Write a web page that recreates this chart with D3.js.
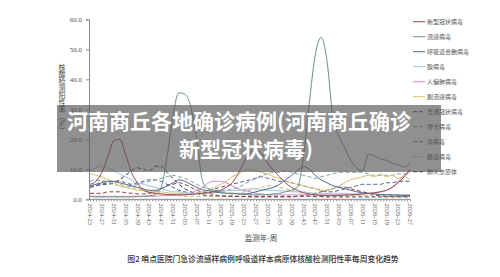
<!DOCTYPE html>
<html>
<head>
<meta charset="utf-8">
<script src="https://cdn.jsdelivr.net/npm/d3@7"></script>
<style>
  html, body { margin: 0; padding: 0; background: #fff; }
  svg { display: block; }
  .axis path, .axis line { stroke: #8a8a8a; }
  .axis text { font-family: "Liberation Serif", serif; fill: #555; }
</style>
</head>
<body>
<svg width="500" height="277"></svg>
<script>
// week labels 2024-23 ... 2026-27
const pad = n => (n < 10 ? "0" : "") + n;
const weeks = [];
for (let w = 23; w <= 52; w++) weeks.push("2024-" + pad(w));
for (let w = 1; w <= 52; w++) weeks.push("2025-" + pad(w));
for (let w = 1; w <= 27; w++) weeks.push("2026-" + pad(w));
// values are read every second week
const sampleWeeks = weeks.filter((d, i) => i % 2 === 0);

const yTicks = [0, 10, 20, 30, 40, 50, 60];

const seriesNames = ["新型冠状病毒", "流感病毒", "呼吸道合胞病毒", "腺病毒", "人偏肺病毒", "副流感病毒",
  "普通冠状病毒", "博卡病毒", "鼻病毒", "肠道病毒", "肺炎支原体"];
const seriesColors = ["#9b4a48", "#6b8f86", "#4c6a94", "#9fc3de", "#d48cc4", "#d6c272",
  "#8b3b3b", "#7aa398", "#5b5a96", "#cbb676", "#2e3550"];
const seriesDashed = [false, false, false, false, false, false, true, true, true, true, true];

const covid = [5, 6, 9, 14, 19.5, 20, 15, 9, 5.5, 3,
  2.3, 2, 1.8, 1.6, 1.5, 1.5, 1.5, 1.6, 1.8, 2,
  2.2, 2.5, 3, 4, 5.5, 8.5, 12.5, 15.5, 16.5, 15,
  12, 9.5, 7.5, 5.5, 4, 3, 2.2, 1.8, 1.5, 1.3,
  1.2, 1.2, 1.3, 1.4, 1.5, 1.6, 1.8, 2, 2.2, 2.5,
  3, 4, 5.5, 7.5, 10];
const flu = [1, 0.8, 0.8, 0.8, 0.8, 0.8, 0.8, 0.8, 0.9, 1,
  1.2, 1.5, 4, 14, 28, 35.5, 35, 31, 20, 6,
  3.5, 3, 2.5, 2, 2, 1.8, 1.6, 1.5, 1.5, 1.5,
  1.6, 1.8, 2, 2.5, 3, 4, 14, 32, 48, 54,
  46, 27, 21, 17, 13, 10.5, 9.5, 15, 14.5, 13.5,
  13, 12, 11.5, 10.8, 12];
const rsv = [4.5, 5, 5.5, 6, 6, 5.5, 5, 4.5, 4, 3.5,
  3, 3, 3.5, 4.5, 5.5, 6.5, 6, 5, 4, 3.2,
  2.8, 2.5, 2.2, 2, 2, 1.8, 1.8, 2, 2.5, 3,
  3.5, 4, 5, 6.5, 8, 9.5, 11, 10, 8, 6.5,
  5.5, 4.5, 4, 3.5, 3, 2.5, 2.2, 2, 1.8, 1.6,
  1.5, 1.5, 1.4, 1.3, 1.3];
const adeno = [9.5, 10.5, 11, 10.5, 9.5, 8.5, 7.5, 6.5, 5.5, 5,
  4.5, 4, 3.5, 3, 2.5, 2.5, 2.2, 2, 2, 2,
  2, 2.2, 2.5, 2.8, 3, 3, 3.2, 3.5, 3.5, 3.2,
  3, 3, 2.8, 2.8, 2.5, 2.5, 2.5, 2.2, 2, 2,
  2, 2, 2, 2, 1.8, 1.8, 1.8, 1.8, 1.8, 1.5,
  1.5, 1.5, 1.5, 1.5, 1.5];
const hmpv = [1, 1, 1, 1, 1, 1, 1, 1, 1, 1,
  1, 1, 1.2, 1.2, 1.3, 1.4, 1.5, 2, 3, 4,
  5.5, 6, 6, 5.5, 4.5, 3.5, 3, 2.5, 2, 1.8,
  1.5, 1.5, 1.5, 1.5, 1.5, 1.5, 1.5, 1.5, 1.5, 1.5,
  1.5, 1.5, 1.5, 1.5, 1.5, 1.6, 1.8, 2, 2, 2.5,
  3, 4, 6, 8, 9];
const piv = [8.5, 8, 7.5, 6.5, 5.5, 4.5, 4, 3.5, 3, 3,
  2.8, 2.5, 2.5, 2.2, 2, 2, 1.8, 1.8, 2, 2.5,
  3, 4, 5, 6, 7.5, 8.5, 9.5, 10, 9.5, 9,
  8.5, 7.5, 7, 6, 5.5, 5, 4.5, 4, 3.5, 3,
  3, 3.5, 4.5, 5.5, 6.5, 7, 7.5, 8, 7.5, 8.5,
  7.5, 8, 7, 7.5, 6.5];
const hcov = [2, 2, 2, 2.5, 2.5, 2.5, 2.2, 2, 1.8, 1.8,
  2, 2.5, 3.5, 4.5, 5, 5.5, 5, 4, 3, 2.5,
  2, 1.5, 1.2, 1, 1, 0.9, 0.9, 0.8, 0.8, 0.8,
  0.8, 0.8, 0.8, 0.8, 0.8, 1, 1.2, 1.5, 2, 2.5,
  3, 3.5, 4, 4, 3.5, 3, 2.5, 2, 1.5, 1.2,
  1, 1, 1, 1, 1];
const boca = [6, 6.5, 6, 5.5, 5, 4.5, 4, 4.5, 5, 5.5,
  6, 6.5, 7, 7.5, 8, 7.5, 7, 6, 5, 4,
  3.5, 3, 3, 3, 3.5, 4, 5, 6, 7, 8,
  8.5, 9, 9, 9.5, 9, 8.5, 8, 7.5, 7, 7.5,
  8, 8.5, 9, 9, 9, 9, 9, 8.5, 8, 8,
  8, 8, 8.5, 8.5, 8];
const rhino = [4, 4.5, 5, 5.5, 6, 6, 5.5, 5, 5.5, 6,
  6.5, 6.5, 6, 5, 4, 3, 2.5, 2, 2, 2.5,
  3, 3.5, 4, 4.5, 5, 5.5, 6, 6.5, 7, 7.5,
  7, 6.5, 6, 6, 5.5, 5, 4.5, 4, 3.5, 3,
  2.5, 2.5, 3, 3.5, 4, 4.5, 5, 5, 5, 5,
  5.5, 5.5, 6, 6, 6];
const entero = [4, 5, 6, 6.5, 6, 5, 4.5, 4, 3.5, 3,
  2.5, 2, 1.8, 1.5, 1.5, 1.2, 1, 1, 1, 1,
  1, 1, 1, 1.2, 1.5, 2, 2.5, 3, 3.5, 4,
  4.5, 4.5, 4, 3.5, 3, 2.5, 2, 1.5, 1.3, 1.2,
  1.2, 1.2, 1.2, 1.2, 1.2, 1.2, 1.2, 1.2, 1.2, 1.2,
  1.2, 1.2, 1.2, 1.2, 1.2];
const myco = [4, 4.5, 5, 5, 5.5, 6.5, 8, 9.5, 10.5, 10,
  9.5, 11, 11, 9, 7, 5, 3.5, 2.5, 2, 1.5,
  1.2, 1, 1, 1, 1, 1, 1, 1, 1, 1,
  1, 1, 1, 1, 1, 1, 1, 1, 0.9, 0.9,
  0.8, 0.8, 0.8, 0.8, 0.8, 0.8, 0.8, 0.8, 0.8, 0.8,
  0.8, 0.8, 0.8, 0.8, 0.8];

const seriesValues = [covid, flu, rsv, adeno, hmpv, piv, hcov, boca, rhino, entero, myco];

const titleLines = ["河南商丘各地确诊病例(河南商丘确诊", "新型冠状病毒)"];
const yTitle = "核酸检测阳性率（%）";
const xTitle = "监测年-周";
const caption = "图2  哨点医院门急诊流感样病例呼吸道样本病原体核酸检测阳性率每周变化趋势";

const svg = d3.select("svg");
const cjk = '"Noto Sans CJK SC", "Noto Sans", sans-serif';

const xScale = d3.scalePoint().domain(weeks).range([90, 410]);
const yScale = d3.scaleLinear().domain([0, 60]).range([199.3, 19.3]);

// y axis
const gY = svg.append("g").attr("class", "axis")
  .attr("transform", "translate(89,0)")
  .call(d3.axisLeft(yScale).tickValues(yTicks).tickSize(3).tickPadding(4).tickFormat(d3.format(".1f")));
gY.selectAll("text").style("font-size", "7px");

// x axis
const gX = svg.append("g").attr("class", "axis")
  .attr("transform", "translate(0,199.3)")
  .call(d3.axisBottom(xScale).tickSize(2).tickSizeOuter(0)
    .tickFormat((d, i) => (i % 4 === 0 ? d : "")));
gX.select(".domain").attr("d", "M89,0H410");
gX.selectAll("text")
  .style("font-size", "6.5px")
  .style("text-anchor", "start")
  .attr("x", 4).attr("y", 0).attr("dy", "0.35em")
  .attr("transform", "rotate(90)");

// lines
const line = d3.line()
  .x((d, i) => xScale(sampleWeeks[i]))
  .y(d => yScale(d))
  .curve(d3.curveMonotoneX);

const order = [10, 9, 8, 7, 6, 5, 4, 3, 2, 0, 1];
svg.append("g").selectAll("path")
  .data(order)
  .join("path")
  .attr("d", k => line(seriesValues[k]))
  .attr("fill", "none")
  .attr("stroke", k => seriesColors[k])
  .attr("stroke-width", 1)
  .attr("stroke-dasharray", k => (seriesDashed[k] ? "4,2.5" : null));

// legend
const legend = svg.append("g").selectAll("g")
  .data(seriesNames)
  .join("g")
  .attr("transform", (d, i) => `translate(413,${21.7 + i * 15})`);
legend.append("line")
  .attr("x1", 0).attr("x2", 12)
  .attr("stroke", (d, i) => seriesColors[i])
  .attr("stroke-width", 1)
  .attr("stroke-dasharray", (d, i) => (seriesDashed[i] ? "4,2" : null));
legend.append("text")
  .attr("x", 14).attr("dy", "0.35em")
  .style("font-family", cjk).style("font-size", "6px").style("fill", "#555")
  .text(d => d);

// axis titles
svg.append("text")
  .attr("x", 62).attr("y", 64)
  .style("writing-mode", "vertical-rl")
  .style("font-family", cjk).style("font-size", "7px").style("fill", "#444")
  .text(yTitle);

svg.append("text")
  .attr("x", 261).attr("y", 241)
  .attr("text-anchor", "middle")
  .style("font-family", cjk).style("font-size", "7.5px").style("fill", "#444")
  .text(xTitle);

svg.append("text")
  .attr("x", 263).attr("y", 262)
  .attr("text-anchor", "middle")
  .style("font-family", cjk).style("font-size", "7.8px").style("fill", "#333")
  .style("font-weight", "500")
  .text(caption);

// grey banner with title
svg.append("rect")
  .attr("x", 57).attr("y", 105).attr("width", 384).attr("height", 67)
  .attr("fill", "#555").attr("opacity", 0.65);

svg.selectAll(".title")
  .data(titleLines)
  .join("text")
  .attr("class", "title")
  .attr("x", (d, i) => (i === 0 ? 239 : 246))
  .attr("y", (d, i) => (i === 0 ? 129 : 157))
  .attr("text-anchor", "middle")
  .style("font-family", cjk).style("font-size", "21px").style("font-weight", "bold")
  .style("fill", "#fff")
  .text(d => d);
</script>
</body>
</html>
